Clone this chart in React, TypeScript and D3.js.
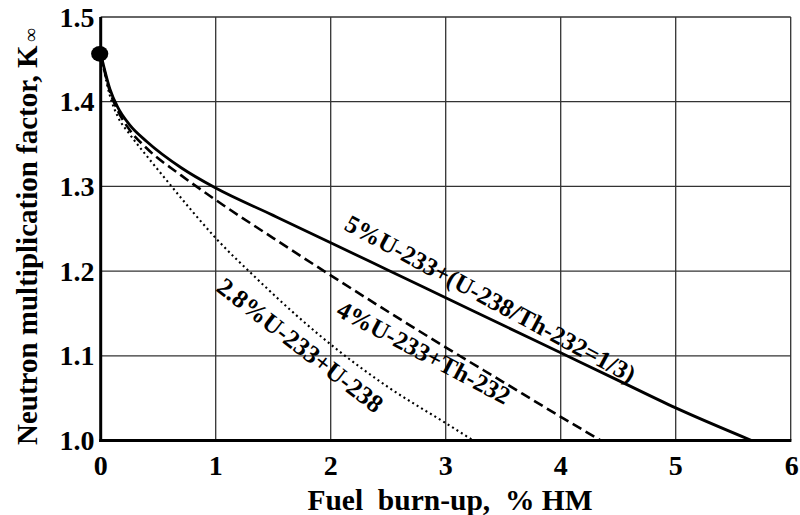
import React from "react";
import * as d3 from "d3";

const xTicks = [0, 1, 2, 3, 4, 5, 6];
const yTicks = [1.0, 1.1, 1.2, 1.3, 1.4, 1.5];

const solidX = [0, 0.03, 0.08, 0.15, 0.25, 0.4, 0.7, 1.0, 1.5, 2.0, 2.5, 3.0, 3.5, 4.0, 4.5, 5.0, 5.66];
const solidK = [1.4565, 1.44, 1.415, 1.393, 1.373, 1.353, 1.322, 1.298, 1.2658, 1.2335, 1.201, 1.1685, 1.136, 1.1035, 1.071, 1.0385, 1.0];

const dashX = [0, 0.03, 0.08, 0.15, 0.25, 0.4, 0.7, 1.0, 1.5, 2.0, 2.5, 3.0, 3.5, 4.0, 4.35];
const dashK = [1.4565, 1.438, 1.412, 1.389, 1.367, 1.345, 1.313, 1.284, 1.239, 1.195, 1.152, 1.11, 1.069, 1.028, 1.0];

const dotX = [0, 0.03, 0.08, 0.15, 0.25, 0.4, 0.55, 0.8, 1.0, 1.35, 1.7, 2.05, 2.5, 3.0, 3.24];
const dotK = [1.4565, 1.436, 1.407, 1.382, 1.362, 1.336, 1.311, 1.27, 1.239, 1.192, 1.148, 1.108, 1.063, 1.0205, 1.0];

const startPoint = { x: 0, k: 1.4565 };

const seriesLabels = [
  "5%U-233+(U-238/Th-232=1/3)",
  "4%U-233+Th-232",
  "2.8%U-233+U-238",
];

const xLabel = "Fuel  burn-up,  % HM";
const yLabel = "Neutron multiplication factor, K";
const ySub = "∞";

export default function App() {
  const W = 800;
  const H = 515;
  const x = d3.scaleLinear().domain([0, 6]).range([100.7, 790.7]);
  const y = d3.scaleLinear().domain([1.0, 1.5]).range([440.5, 17]);
  const font = '"Liberation Serif", "Times New Roman", Times, "DejaVu Serif", serif';
  const ts = { fontFamily: font, fontWeight: 700 } as React.CSSProperties;

  const mk = (xs: number[], ks: number[]) =>
    d3
      .line<number>()
      .x((_, i) => x(xs[i]))
      .y((_, i) => y(ks[i]))
      .curve(d3.curveMonotoneX)(xs) as string;

  return (
    <svg
      width={W}
      height={H}
      style={{ position: "absolute", left: 0, top: 0, background: "#fff" }}
    >
      {/* grid */}
      {xTicks.slice(1).map((t) => (
        <line key={"gx" + t} x1={x(t)} x2={x(t)} y1={y(1.5)} y2={y(1.0)} stroke="#333" strokeWidth={1.3} />
      ))}
      {yTicks.slice(1).map((t) => (
        <line key={"gy" + t} x1={x(0)} x2={x(6)} y1={y(t)} y2={y(t)} stroke="#333" strokeWidth={1.3} />
      ))}
      {/* axes */}
      <line x1={x(0)} x2={x(0)} y1={y(1.5)} y2={y(1.0) + 1.5} stroke="#000" strokeWidth={3} />
      <line x1={x(0) - 1.5} x2={x(6) + 0.7} y1={y(1.0)} y2={y(1.0)} stroke="#000" strokeWidth={3} />

      {/* curves */}
      <path d={mk(solidX, solidK)} fill="none" stroke="#000" strokeWidth={2.8} />
      <path d={mk(dashX, dashK)} fill="none" stroke="#000" strokeWidth={2.6} strokeDasharray="10 5" />
      <path d={mk(dotX, dotK)} fill="none" stroke="#000" strokeWidth={2.1} strokeDasharray="2 3.2" />

      <ellipse cx={x(startPoint.x) - 1} cy={y(startPoint.k)} rx={8.6} ry={7.8} fill="#000" />

      {/* tick labels */}
      {yTicks.map((t) => (
        <text key={"yt" + t} x={94.5} y={y(t) + 9.6} textAnchor="end" fontSize={28} style={ts}>
          {t.toFixed(1)}
        </text>
      ))}
      {xTicks.map((t) => (
        <text key={"xt" + t} x={x(t) + (t === 6 ? 1 : 0)} y={475} textAnchor="middle" fontSize={28} style={ts}>
          {t}
        </text>
      ))}

      {/* axis labels */}
      <text x={450} y={510} textAnchor="middle" fontSize={29.5} style={{ ...ts, whiteSpace: "pre" }}>
        {xLabel}
      </text>
      <text transform="translate(37,445) rotate(-90)" textAnchor="start" fontSize={29} style={ts}>
        {yLabel}
        <tspan dx={4} fontSize={19}>{ySub}</tspan>
      </text>

      {/* series labels */}
      <text transform="translate(343,229) rotate(28.3)" fontSize={25} style={ts}>
        {seriesLabels[0]}
      </text>
      <text transform="translate(335,315) rotate(28)" fontSize={25} style={ts}>
        {seriesLabels[1]}
      </text>
      <text transform="translate(215,290) rotate(37.8)" fontSize={25.5} style={ts}>
        {seriesLabels[2]}
      </text>
    </svg>
  );
}
